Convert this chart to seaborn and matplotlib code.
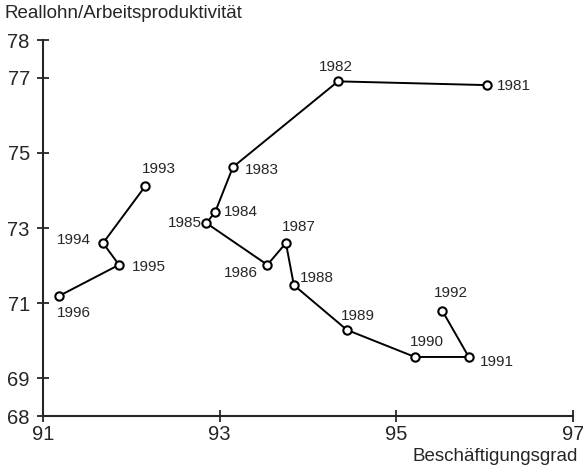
import pandas as pd
import seaborn as sns
import matplotlib.pyplot as plt

# Values
years = [1981, 1982, 1983, 1984, 1985, 1986, 1987, 1988, 1989, 1990, 1991, 1992,
         1993, 1994, 1995, 1996]
employment = [96.03, 94.34, 93.15, 92.95, 92.85, 93.54, 93.75, 93.84, 94.44, 95.21,
              95.82, 95.52, 92.16, 91.68, 91.86, 91.18]
wage_ratio = [76.8, 76.9, 74.62, 73.43, 73.13, 72.02, 72.6, 71.48, 70.29, 69.57,
              69.57, 70.8, 74.12, 72.6, 72.02, 71.19]
segment = [1] * 12 + [2] * 4

x_ticks = [91, 93, 95, 97]
y_ticks = [68, 69, 71, 73, 75, 77, 78]

# label placement: (dx px, dy px, horizontal alignment)
label_pos = {
    1981: (10, -1, 'left'), 1982: (-2, 14, 'center'), 1983: (12, -3, 'left'),
    1984: (9, 0, 'left'), 1985: (-5, 0, 'right'), 1986: (-9, -8, 'right'),
    1987: (13, 16, 'center'), 1988: (6, 7, 'left'), 1989: (11, 14, 'center'),
    1990: (12, 15, 'center'), 1991: (11, -5, 'left'), 1992: (9, 18, 'center'),
    1993: (13, 17, 'center'), 1994: (-12, 3, 'right'), 1995: (13, -2, 'left'),
    1996: (15, -17, 'center'),
}

df = pd.DataFrame({'year': years, 'x': employment, 'y': wage_ratio, 'seg': segment})

sns.set_style('ticks')
plt.rcParams['font.family'] = ['Liberation Sans', 'DejaVu Sans']

fig = plt.figure(figsize=(5.83, 4.69), dpi=100)
ax = fig.add_axes([43 / 583, 1 - 416 / 469, 530 / 583, 376 / 469])

sns.lineplot(data=df, x='x', y='y', units='seg', estimator=None, sort=False,
             color='black', linewidth=1.4, marker='o', markersize=6,
             markerfacecolor='white', markeredgecolor='black', markeredgewidth=1.5,
             ax=ax, legend=False)

for yr, xv, yv in zip(years, employment, wage_ratio):
    dx, dy, ha = label_pos[yr]
    ax.annotate(str(yr), (xv, yv), xytext=(dx, dy), textcoords='offset pixels',
                ha=ha, va='center', fontsize=11)

ax.set_xlim(91, 97)
ax.set_ylim(68, 78)
ax.set_xticks(x_ticks)
ax.set_yticks(y_ticks)
ax.tick_params(direction='inout', length=9, width=1.3, labelsize=14.5, pad=2)
ax.tick_params(axis='y', pad=5)
sns.despine(ax=ax)
for s in ['left', 'bottom']:
    ax.spines[s].set_linewidth(1.5)
ax.set_xlabel('')
ax.set_ylabel('')

fig.text(5 / 583, 1 - 14 / 469, 'Reallohn/Arbeitsproduktivität', fontsize=13.5,
         ha='left', va='center')
fig.text(578 / 583, 1 - 456 / 469, 'Beschäftigungsgrad', fontsize=13.5,
         ha='right', va='center')

fig.savefig('out.png', dpi=100)
